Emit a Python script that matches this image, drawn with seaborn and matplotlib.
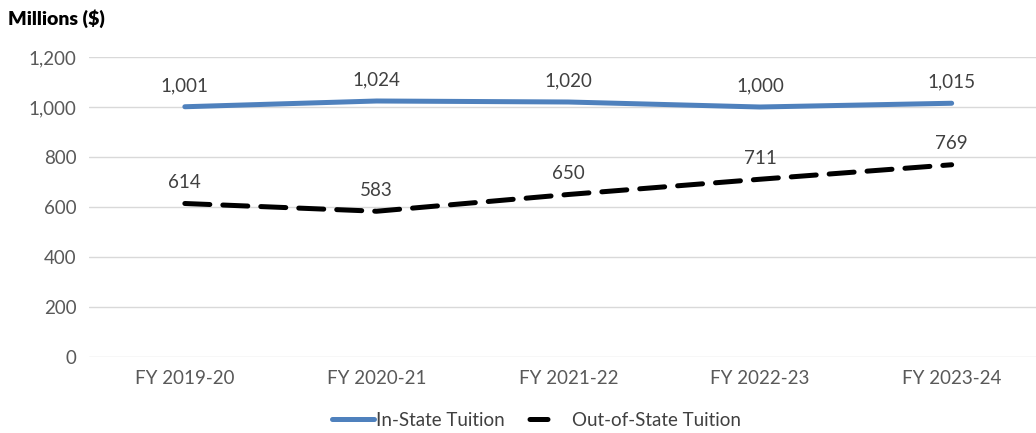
import seaborn as sns
import matplotlib.pyplot as plt
import pandas as pd

years = ["FY 2019-20", "FY 2020-21", "FY 2021-22", "FY 2022-23", "FY 2023-24"]
in_state = [1001, 1024, 1020, 1000, 1015]
out_state = [614, 583, 650, 711, 769]
series_names = ["In-State Tuition", "Out-of-State Tuition"]

sns.set_style("white")
plt.rcParams["font.family"] = ["Lato", "DejaVu Sans"]

df = pd.DataFrame({
    "year": years * 2,
    "value": in_state + out_state,
    "series": [series_names[0]] * len(years) + [series_names[1]] * len(years),
})
df["x"] = df["year"].map({y: i for i, y in enumerate(years)})

fig = plt.figure(figsize=(10.36, 4.33), dpi=100)
ax = fig.add_axes([89 / 1036, 76 / 433, 1 - 89 / 1036, 300 / 433])

dash = (5.0, 2.6)
sns.lineplot(data=df, x="x", y="value", hue="series", style="series",
             palette={series_names[0]: "#4f81bd", series_names[1]: "black"},
             dashes={series_names[0]: "", series_names[1]: dash},
             linewidth=3.6, ax=ax, legend=False)
for line in ax.lines:
    line.set_solid_capstyle("round")
    line.set_dash_capstyle("round")

for vals in (in_state, out_state):
    for i, v in enumerate(vals):
        ax.annotate(f"{v:,}", (i, v), xytext=(0, 9), textcoords="offset points",
                    ha="center", va="bottom", fontsize=13.5, color="#404040")

ax.set_xlim(-0.5, 4.44)
ax.set_ylim(0, 1200)
ax.set_yticks(range(0, 1201, 200))
ax.set_yticklabels([f"{t:,}" for t in range(0, 1201, 200)])
ax.set_xticks(range(len(years)))
ax.set_xticklabels(years)
ax.tick_params(axis="both", labelsize=13.5, colors="#595959", length=0, pad=9)
ax.grid(axis="y", color="#d9d9d9", linewidth=1)
ax.set_xlabel("")
ax.set_ylabel("")
for s in ax.spines.values():
    s.set_visible(False)

fig.text(8 / 1036, 1 - 19 / 433, "Millions ($)", fontsize=14, fontweight="heavy",
         va="center", ha="left", color="black")

# one single dash for the legend key, like the reference
handles = [plt.Line2D([], [], color="#4f81bd", linewidth=3.6, solid_capstyle="round"),
           plt.Line2D([], [], color="black", linewidth=3.6, linestyle=(13.5, (3.6, 10.0)),
                      dash_capstyle="round")]
fig.legend(handles, series_names, loc="center", bbox_to_anchor=(0.518, 1 - 420 / 433),
           ncol=2, frameon=False, fontsize=13.5, handlelength=2.2, columnspacing=1.3,
           labelcolor="#404040", handletextpad=0.1)

fig.savefig("out.png", dpi=100)
